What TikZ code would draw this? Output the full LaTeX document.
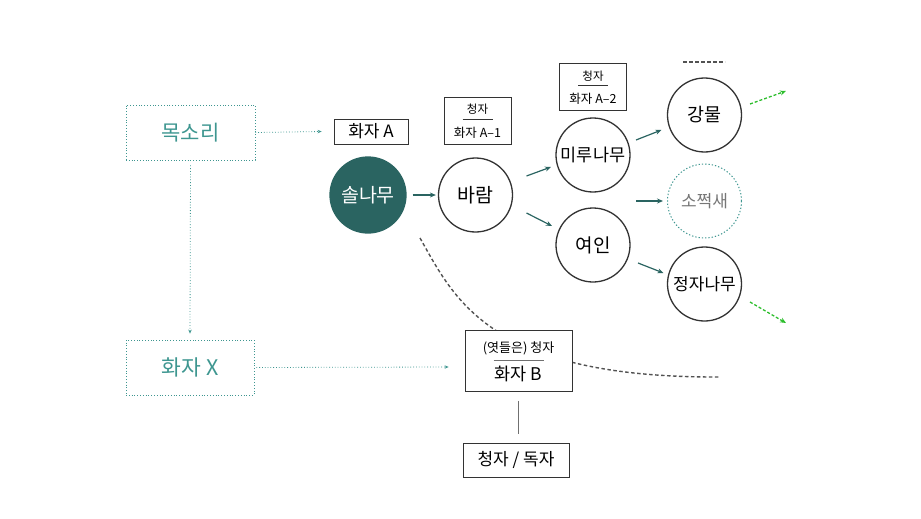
\documentclass[tikz,border=0pt]{standalone}
\usepackage{fontspec}
\setmainfont{Noto Sans CJK KR}
\usetikzlibrary{arrows.meta,calc}
\definecolor{tealD}{HTML}{2A6461}
\definecolor{tealL}{HTML}{3E9690}
\definecolor{ink}{HTML}{333333}
\definecolor{grn}{HTML}{2DBE2D}
\definecolor{gtext}{HTML}{777777}
\newcommand{\fs}[1]{\fontsize{#1}{#1}\selectfont}
\begin{document}
\begin{tikzpicture}[x=1pt,y=-1pt,
  circ/.style={circle, draw=ink, line width=1.3pt, minimum size=74pt, inner sep=0pt, text=black, fill=white},
  tbox/.style={draw=ink, line width=0.8pt, fill=white, inner sep=0pt, text=black},
  dbox/.style={draw=tealL, dotted, line width=0.8pt, text=tealL, inner sep=0pt},
  arr/.style={-{Stealth[length=6pt,width=5pt]}, draw=tealD, line width=1.2pt},
  darr/.style={-{Stealth[length=4pt,width=3.5pt]}, draw=tealL, dotted, line width=0.8pt},
  garr/.style={-{Stealth[length=6pt,width=5pt]}, draw=grn, line width=1.3pt, dash pattern=on 3pt off 2pt},
  gdash/.style={draw=ink!85, line width=1.4pt, dash pattern=on 3.5pt off 2.5pt},
  lbl/.style={inner sep=0pt, text=black}]
\useasboundingbox (0,0) rectangle (921,519);

% curved dashed line (drawn behind the box)
\coordinate (cs) at (420,238);
\coordinate (ce) at (720,377);
\draw[gdash] (cs) .. controls (455,300) and (490,378) .. (ce);

% left boxes
\node[dbox, minimum width=129pt, minimum height=55pt, font=\fs{21}] (mok) at (190.5,132.5) {목소리};
\node[dbox, minimum width=128pt, minimum height=55pt, font=\fs{21.5}] (hx) at (190,367.5) {화자 X};

% speaker boxes
\node[tbox, minimum width=74pt, minimum height=25pt, font=\fs{17}] (ha) at (371,131.5) {화자 A};

\node[tbox, minimum width=67pt, minimum height=47pt] (a1) at (477.5,120.5) {};
\node[lbl, font=\fs{11.5}] (a1t) at ($(a1.center)+(0,-11)$) {청자};
\node[lbl, font=\fs{12.5}] (a1b) at ($(a1.center)+(0,12)$) {화자 A–1};
\draw[ink, line width=0.6pt] ($(a1.center)+(-15,-1.5)$) -- ($(a1.center)+(15,-1.5)$);

\node[tbox, minimum width=67pt, minimum height=47pt] (a2) at (593,87) {};
\node[lbl, font=\fs{11.5}] (a2t) at ($(a2.center)+(0,-11)$) {청자};
\node[lbl, font=\fs{12.5}] (a2b) at ($(a2.center)+(0,12)$) {화자 A–2};
\draw[ink, line width=0.6pt] ($(a2.center)+(-15,-1.5)$) -- ($(a2.center)+(15,-1.5)$);

\node[tbox, minimum width=107pt, minimum height=61pt] (hb) at (518.5,361) {};
\node[lbl, font=\fs{13}] (hbt) at ($(hb.center)+(0,-13)$) {(엿들은) 청자};
\node[lbl, font=\fs{17.5}] (hbb) at ($(hb.center)+(0,13)$) {화자 B};
\draw[ink!70, line width=0.6pt] ($(hb.center)+(-25,-1)$) -- ($(hb.center)+(25,-1)$);

\node[tbox, minimum width=106pt, minimum height=34pt, font=\fs{17}] (dok) at (516,460) {청자 / 독자};
\coordinate (hbs) at ($(hb.south)+(0,9)$);
\coordinate (dkn) at ($(hbs |- dok.north)+(0,-9)$);
\draw[ink!70, line width=0.8pt] (hbs) -- (dkn);

% circles
\node[circ, fill=tealD, draw=tealD, text=white, minimum size=76pt, font=\fs{19.5}] (sol) at (368,195) {솔나무};
\node[circ, font=\fs{19.5}] (bar) at (475.5,195) {바람};
\node[circ, font=\fs{17.5}] (mir) at (593,155) {미루나무};
\node[circ, font=\fs{19}] (yeo) at (593,245) {여인};
\node[circ, font=\fs{18.5}] (gang) at (704.5,115) {강물};
\node[circ, draw=tealL, dotted, line width=1pt, text=gtext, font=\fs{17}] (soj) at (704.5,201) {소쩍새};
\node[circ, font=\fs{17}] (jeong) at (704.5,284) {정자나무};

% connectors
\draw[darr] (mok.east) -- ($(ha.west)+(-12,0)$) coordinate (haw);
\draw[darr] ($(mok.south)+(0,5)$) coordinate (moks) -- ($(hx.north)+(0,-6)$);
\draw[darr] ($(hx.east)+(2,0)$) coordinate (hxe) -- ($(hb.west)+(-16,6)$);

\draw[arr] ($(sol.east)+(6,0)$) coordinate (sole) -- ($(bar.west)+(-2,0)$);
\draw[arr] ($(bar.center)+(51,-19)$) coordinate (b1) -- ($(mir.center)+(-42,12)$);
\draw[arr] ($(bar.center)+(51,18)$) coordinate (b2) -- ($(yeo.center)+(-41,-19)$);
\draw[arr] ($(mir.center)+(43,-15)$) coordinate (m1) -- ($(gang.center)+(-43,15)$);
\coordinate (sjs) at (636,201);
\draw[arr] (sjs) -- ($(soj.west)+(-4,0)$);
\draw[arr] ($(yeo.center)+(45,18)$) coordinate (y1) -- ($(jeong.center)+(-41,-11)$);

% green dashed arrows
\coordinate (g1s) at (750,104);
\coordinate (g1e) at (786,91);
\coordinate (g2s) at (750,302);
\coordinate (g2e) at (786,323);
\draw[garr] (g1s) -- (g1e);
\draw[garr] (g2s) -- (g2e);

% dashed line above
\coordinate (t1) at (683,62);
\coordinate (t2) at (725,62);
\draw[gdash] (t1) -- (t2);
\end{tikzpicture}
\end{document}
